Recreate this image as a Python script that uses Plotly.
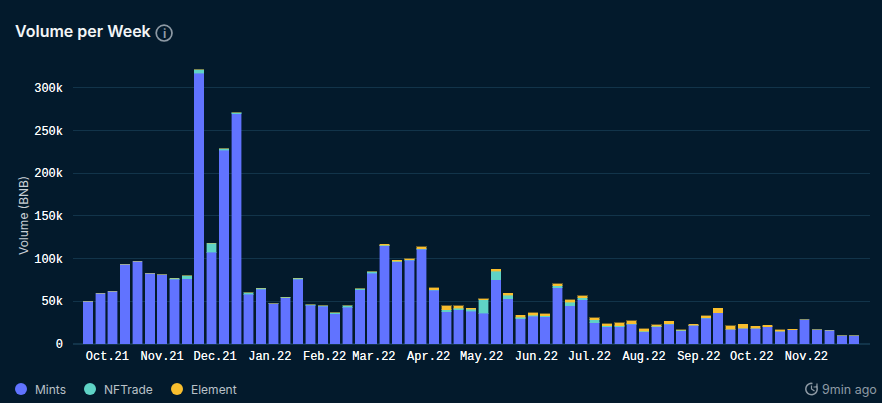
import math
import pandas as pd
import plotly.graph_objects as go

# Weekly volume in thousands of BNB
mints = [50,59.3,61.6,93.6,97,82.7,81,75.7,76.5,317,107.6,227,269.5,58,64,47,54,75.7,45.2,44,
         35.5,43,63.6,83,115,96.3,97.9,110.8,62.8,37.8,40.2,38.6,35.9,75.3,53,29.3,32.4,32,66,44.5,
         51.9,25,20.3,20.3,23,14.4,20.3,23.4,15.6,21.8,30.4,36.3,17.2,18.3,18.3,20,14.8,16.4,28.5,16.8,
         16,9.8,9.4]
nftrade = [0,0,0,0,0,0,0,1.5,3.5,4,10.4,1.5,1.5,2,1.5,0.4,1,1.1,0.8,0.5,
           0.8,1.5,1.1,1.6,0.8,0.8,0.9,0.8,0.8,2.4,1.5,2,16,10.1,4,1.9,1.1,0.8,2.3,4.6,
           2.3,3.5,1.2,1.2,0.8,0.8,0.7,0.4,0.4,0.3,0.3,0.4,0,0,0,0,0,0,0,0,
           0,0,0]
element = [0,0,0,0,0,0,0,0,0,0,0,0,0,0,0,0,0,0,0,0,
           0,0,0,0,0.8,0.8,1,2.3,2.3,4.3,2.8,1.4,1.1,2.4,2.7,2.7,2.8,2.7,2.3,2.8,
           2.4,2.3,2.3,3.1,3.5,2.7,1.6,2.6,0.8,0.8,2.6,5,4.3,4.7,2.7,1.8,1.6,1.1,0,0,
           0,0,0]
weeks = pd.date_range("2021-09-20", periods=len(mints), freq="7D")

series_names = ["Mints", "NFTrade", "Element"]
series_values = [mints, nftrade, element]
series_colors = ["#6173FF", "#5FD3C6", "#F9BE2E"]
series_edges = ["rgba(97,115,255,0.4)", "rgba(95,211,198,0.4)", "rgba(249,190,46,0.4)"]

month_ticks = pd.date_range("2021-10-01", "2022-11-01", freq="MS")
month_labels = [d.strftime("%b.%y") for d in month_ticks]
volume_ticks = [0, 50, 100, 150, 200, 250, 300]
volume_labels = ["0", "50k", "100k", "150k", "200k", "250k", "300k"]

BG = "#031A2C"
GRID = "#12344A"
TEXT = "#FFFFFF"
MUTED = "#8E9AA5"
MONO = "Liberation Mono"
W, H = 882, 403
LEFT, RIGHT, TOP, BOTTOM = 73, 870, 60, 344


def px(x):
    """Page pixel to paper x."""
    return (x - LEFT) / (RIGHT - LEFT)


def py(y):
    """Page pixel to paper y."""
    return (BOTTOM - y) / (BOTTOM - TOP)


def paper_shape(**kwargs):
    return dict(xref="paper", yref="paper", **kwargs)


def paper_label(x, y, text, anchor, font, angle=0):
    return dict(xref="paper", yref="paper", x=px(x), y=py(y), text=text, showarrow=False,
                xanchor=anchor, yanchor="middle", font=font, textangle=angle)


fig = go.Figure()
for name, values, color, edge in zip(series_names, series_values, series_colors, series_edges):
    fig.add_bar(
        x=weeks,
        y=[v * 1000 for v in values],
        name=name,
        marker=dict(color=color, line=dict(color=edge, width=1)),
        showlegend=False,
    )

shapes = []
annotations = []

# Legend row along the bottom edge
legend_dots = [21, 90, 177]
for name, color, cx in zip(series_names, series_colors, legend_dots):
    shapes.append(paper_shape(type="circle", x0=px(cx - 6), x1=px(cx + 6), y0=py(395), y1=py(383),
                              fillcolor=color, line_width=0))
    annotations.append(paper_label(cx + 11.5, 389, name, "left",
                                   dict(family="Inter", size=12, color="#B9C1C8")))

# Info icon beside the title
shapes.append(paper_shape(type="circle", x0=px(156.2), x1=px(172), y0=py(41), y1=py(25.2),
                          line=dict(color=MUTED, width=1.7)))
annotations.append(paper_label(164.1, 33, "i", "center",
                               dict(family="Inter", size=12, color=MUTED, weight=700)))

# Y axis caption
annotations.append(paper_label(23, 215, "Volume (BNB)", "center",
                               dict(family="Inter", size=12, color="#C9D0D6"), angle=-90))

# Refresh clock: an open ring with a small arrowhead and two hands
cx, cy, r = 811.5, 389, 5.7
ring = [(cx + r * math.cos(math.radians(a)), cy + r * math.sin(math.radians(a)))
        for a in range(-35, 285, 15)]
ring_path = "M " + " L ".join(f"{px(x)} {py(y)}" for x, y in ring)
shapes.append(paper_shape(type="path", path=ring_path, line=dict(color=MUTED, width=1.5)))
hands = f"M {px(cx)} {py(cy - 3.5)} L {px(cx)} {py(cy)} L {px(cx + 3)} {py(cy + 2)}"
shapes.append(paper_shape(type="path", path=hands, line=dict(color=MUTED, width=1.2)))
arrow = f"M {px(cx + 5.5)} {py(cy - 5.5)} L {px(cx + 5.5)} {py(cy - 2)} L {px(cx + 2)} {py(cy - 2)}"
shapes.append(paper_shape(type="path", path=arrow, line=dict(color=MUTED, width=1.2)))
annotations.append(paper_label(879, 389, "9min ago", "right",
                               dict(family="Inter", size=12.5, color=MUTED)))

tick_font = dict(family=MONO, size=12, color=TEXT, shadow="0 0 0.6px rgba(255,255,255,0.8)")

fig.update_layout(
    width=W, height=H,
    autosize=False,
    barmode="stack",
    bargap=0.23,
    paper_bgcolor=BG,
    plot_bgcolor=BG,
    margin=dict(l=LEFT, r=W - RIGHT, t=TOP, b=H - BOTTOM, pad=0),
    title=dict(text="Volume per Week", x=15 / W, xanchor="left", y=1 - 31 / H, yanchor="middle",
               font=dict(family="Inter", size=16, color="#F2F5F7", weight=600)),
    shapes=shapes,
    annotations=annotations,
    xaxis=dict(
        type="date",
        range=["2021-09-11 12:00", "2022-12-07"],
        tickvals=month_ticks,
        ticktext=month_labels,
        showgrid=False,
        zeroline=False,
        ticks="",
        ticklabelstandoff=3,
        tickfont=tick_font,
    ),
    yaxis=dict(
        range=[0, 332500],
        tickvals=[v * 1000 for v in volume_ticks],
        ticktext=volume_labels,
        showgrid=True,
        gridcolor=GRID,
        gridwidth=1,
        zeroline=True,
        zerolinecolor=GRID,
        ticks="",
        ticklabelstandoff=9,
        tickfont=tick_font,
    ),
)

fig.write_html("out.html", config={"displayModeBar": False})
